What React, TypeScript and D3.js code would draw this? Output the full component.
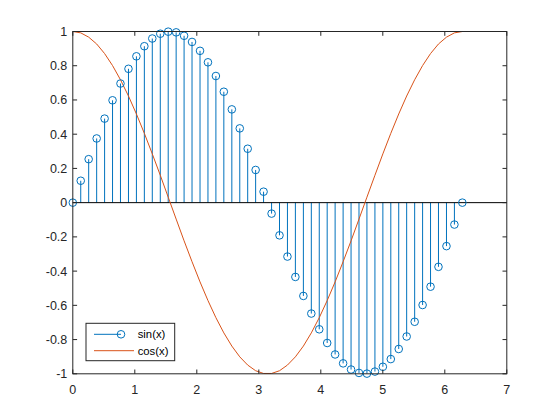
import React from "react";
import * as d3 from "d3";

const xValues = [
  0, 0.128, 0.256, 0.385, 0.513, 0.641, 0.769, 0.898, 1.026, 1.154,
  1.282, 1.411, 1.539, 1.667, 1.795, 1.923, 2.052, 2.18, 2.308, 2.436,
  2.565, 2.693, 2.821, 2.949, 3.077, 3.206, 3.334, 3.462, 3.59, 3.719,
  3.847, 3.975, 4.103, 4.231, 4.36, 4.488, 4.616, 4.744, 4.873, 5.001,
  5.129, 5.257, 5.385, 5.514, 5.642, 5.77, 5.898, 6.027, 6.155, 6.283,
];
const sinValues = [
  0, 0.128, 0.254, 0.375, 0.491, 0.598, 0.696, 0.782, 0.855, 0.914,
  0.959, 0.987, 0.999, 0.995, 0.975, 0.939, 0.887, 0.82, 0.74, 0.648,
  0.545, 0.434, 0.315, 0.191, 0.064, -0.064, -0.191, -0.315, -0.434, -0.545,
  -0.648, -0.74, -0.82, -0.887, -0.939, -0.975, -0.995, -0.999, -0.987, -0.959,
  -0.914, -0.855, -0.782, -0.696, -0.598, -0.491, -0.375, -0.254, -0.128, 0,
];
const cosValues = [
  1, 0.992, 0.967, 0.927, 0.871, 0.801, 0.718, 0.623, 0.518, 0.405,
  0.285, 0.16, 0.032, -0.096, -0.223, -0.345, -0.463, -0.572, -0.672, -0.761,
  -0.838, -0.901, -0.949, -0.982, -0.998, -0.998, -0.982, -0.949, -0.901, -0.838,
  -0.761, -0.672, -0.572, -0.463, -0.345, -0.223, -0.096, 0.032, 0.16, 0.285,
  0.405, 0.518, 0.623, 0.718, 0.801, 0.871, 0.927, 0.967, 0.992, 1,
];
const xTicks = [0, 1, 2, 3, 4, 5, 6, 7];
const yTicks = [-1, -0.8, -0.6, -0.4, -0.2, 0, 0.2, 0.4, 0.6, 0.8, 1];
const legendLabels = ["sin(x)", "cos(x)"];

const BLUE = "#0072BD";
const ORANGE = "#D95319";
const AX = "#262626";
const FONT = "'Liberation Sans', Arial, Helvetica, sans-serif";

export default function App() {
  const L = 72.8, R = 506.8, T = 31.5, B = 373.8;
  const x = d3.scaleLinear().domain([0, 7]).range([L, R]);
  const y = d3.scaleLinear().domain([-1, 1]).range([B, T]);
  const tl = 4.3;
  const line = d3
    .line<number>()
    .x((_, i) => x(xValues[i]))
    .y((d) => y(d));

  return (
    <svg
      width={560}
      height={420}
      style={{ position: "absolute", left: 0, top: 0, background: "#fff" }}
      fontFamily={FONT}
    >
      <rect x={0} y={0} width={560} height={420} fill="#fff" />
      {sinValues.map((v, i) => (
        <line
          key={"s" + i}
          x1={x(xValues[i])}
          x2={x(xValues[i])}
          y1={y(0)}
          y2={y(v)}
          stroke={BLUE}
          strokeWidth={1}
        />
      ))}
      <line x1={L} x2={R} y1={y(0)} y2={y(0)} stroke="#000" strokeWidth={1} />
      <path d={line(cosValues) || ""} fill="none" stroke={ORANGE} strokeWidth={1} />
      {sinValues.map((v, i) => (
        <circle
          key={"m" + i}
          cx={x(xValues[i])}
          cy={y(v)}
          r={3.8}
          fill="none"
          stroke={BLUE}
          strokeWidth={1}
        />
      ))}
      <rect x={L} y={T} width={R - L} height={B - T} fill="none" stroke={AX} strokeWidth={1} />
      {xTicks.map((t) => (
        <g key={"xt" + t}>
          <line x1={x(t)} x2={x(t)} y1={B} y2={B - tl} stroke={AX} />
          <line x1={x(t)} x2={x(t)} y1={T} y2={T + tl} stroke={AX} />
          <text x={x(t)} y={B + 20} fontSize={12.5} textAnchor="middle" fill={AX}>
            {t}
          </text>
        </g>
      ))}
      {yTicks.map((t) => (
        <g key={"yt" + t}>
          <line x1={L} x2={L + tl} y1={y(t)} y2={y(t)} stroke={AX} />
          <line x1={R} x2={R - tl} y1={y(t)} y2={y(t)} stroke={AX} />
          <text
            x={L - 5.5}
            y={y(t)}
            dy="0.36em"
            fontSize={12.5}
            textAnchor="end"
            fill={AX}
          >
            {String(Math.round(t * 10) / 10)}
          </text>
        </g>
      ))}
      <rect x={86} y={323.3} width={88.7} height={37.4} fill="#fff" stroke={AX} strokeWidth={1} />
      <line x1={94} x2={121} y1={334.3} y2={334.3} stroke={BLUE} />
      <circle cx={121} cy={334.3} r={3.8} fill="none" stroke={BLUE} />
      <text x={137.7} y={334.3} dy="0.36em" fontSize={11.3} fill="#000">
        {legendLabels[0]}
      </text>
      <line x1={94} x2={134} y1={350.7} y2={350.7} stroke={ORANGE} />
      <text x={137.7} y={350.7} dy="0.36em" fontSize={11.3} fill="#000">
        {legendLabels[1]}
      </text>
    </svg>
  );
}
